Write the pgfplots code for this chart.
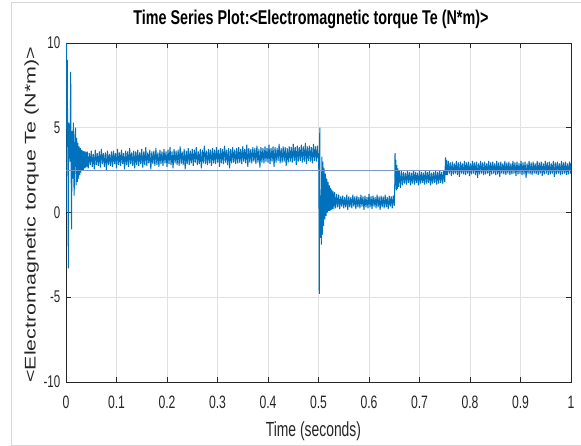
\documentclass[border=0pt]{standalone}
\usepackage{fontspec}
\usepackage{graphicx}
\usepackage{pgfplots}
\pgfplotsset{compat=1.18}
\setmainfont{Liberation Sans}
\newfontfamily\narrowfont{Liberation Sans}[FakeStretch=0.68]
\newfontfamily\titlefont{Liberation Sans}[FakeStretch=0.72]
\definecolor{mblue}{RGB}{0,114,189}
\definecolor{refline}{RGB}{120,150,200}
\definecolor{axgray}{RGB}{38,38,38}
\definecolor{gridgray}{RGB}{225,225,225}
\definecolor{framegray}{RGB}{215,215,215}
\begin{document}
\begin{tikzpicture}
\useasboundingbox (0,0) rectangle (581bp,446bp);
\draw[framegray, line width=0.8bp] (581bp,444bp) -- (11.5bp,444bp) -- (11.5bp,1bp) -- (581bp,1bp);
\begin{axis}[
  at={(66bp,64bp)}, anchor=south west,
  scale only axis, width=505bp, height=339bp,
  xmin=0, xmax=1, ymin=-10, ymax=10,
  xtick={0,0.1,0.2,0.3,0.4,0.5,0.6,0.7,0.8,0.9,1},
  xticklabels={0,0.1,0.2,0.3,0.4,0.5,0.6,0.7,0.8,0.9,1},
  ytick={-10,-5,0,5,10},
  yticklabels={-10,-5,0,5,10},
  grid=major,
  major grid style={color=gridgray, line width=0.6bp},
  tick align=inside, major tick length=5bp,
  tick style={axgray, line width=0.6bp},
  axis line style={axgray, line width=0.7bp},
  ticklabel style={color=axgray},
  xticklabel style={font=\narrowfont\fontsize{18}{20}\selectfont, inner sep=0pt, yshift=-14bp},
  yticklabel style={font=\narrowfont\fontsize{17}{19}\selectfont, inner sep=0pt, xshift=-5.5bp},
  title={Time Series Plot:<Electromagnetic torque Te (N*m)>},
  title style={font=\titlefont\bfseries\fontsize{20}{22}\selectfont, at={(axis description cs:0.485,1.0383)}, anchor=base, inner sep=0pt, color=black},
  xlabel={Time (seconds)},
  xlabel style={font=\narrowfont\fontsize{20.5}{22}\selectfont, at={(axis description cs:0.49,-0.1622)}, anchor=base, inner sep=0pt, color=axgray},
  ylabel={\scalebox{1}[0.72]{<Electromagnetic torque Te (N*m)>}},
  ylabel style={font=\fontsize{21.5}{23}\selectfont, at={(axis description cs:-0.0600,0.493)}, anchor=base, inner sep=0pt, color=axgray},
]
\addplot[mblue, line width=1.0bp, line join=bevel] coordinates {
(0.0000,0.0)(0.0010,10.0)(0.0018,5.5)(0.0025,9.0)(0.0032,4.8)(0.0040,2.0)(0.0046,-3.3)(0.0055,5.3)(0.0062,4.8)(0.0070,5.2)
(0.0080,3.0)(0.0093,8.3)(0.0100,3.5)(0.0110,-1.0)(0.0120,4.8)(0.0132,2.0)(0.0145,5.3)(0.0155,2.0)(0.0162,1.0)(0.0175,4.5)
(0.0190,5.0)(0.0200,1.6)(0.0212,4.4)(0.0224,1.8)(0.0236,4.1)(0.0248,2.0)(0.0260,3.9)(0.0272,2.2)(0.0284,3.8)(0.0296,2.35)
(0.0308,3.7)(0.0320,2.45)(0.0332,3.65)(0.0344,2.5)(0.0356,3.6)(0.0368,2.6)(0.0380,3.6)(0.0392,2.65)(0.0404,3.55)(0.0412,2.7)
(0.042,3.6)(0.044,2.6)(0.046,3.5)(0.048,2.8)(0.050,3.65)(0.052,2.7)(0.054,3.45)(0.056,2.55)(0.058,3.7)(0.060,2.8)
(0.062,3.5)(0.064,2.75)(0.066,3.6)(0.068,2.65)(0.070,3.75)(0.072,2.85)(0.074,3.5)(0.076,2.7)(0.078,3.55)(0.080,2.5)
(0.082,3.65)(0.084,2.8)(0.086,3.45)(0.088,2.75)(0.090,3.6)(0.092,2.7)(0.094,3.65)(0.096,2.85)(0.098,3.5)(0.100,2.6)
(0.102,3.75)(0.104,2.8)(0.106,3.55)(0.108,2.75)(0.110,3.7)(0.112,2.85)(0.114,3.5)(0.116,2.55)(0.118,3.65)(0.120,2.8)
(0.122,3.6)(0.124,2.7)(0.126,3.8)(0.128,2.85)(0.130,3.55)(0.132,2.75)(0.134,3.65)(0.136,2.6)(0.138,3.6)(0.140,2.8)
(0.142,3.7)(0.144,2.75)(0.146,3.55)(0.148,2.85)(0.150,3.75)(0.152,2.65)(0.154,3.6)(0.156,2.8)(0.158,3.85)(0.160,2.75)
(0.162,3.55)(0.164,2.9)(0.166,3.7)(0.168,2.55)(0.170,3.6)(0.172,2.85)(0.174,3.65)(0.176,2.75)(0.178,3.8)(0.180,2.8)
(0.182,3.55)(0.184,2.7)(0.186,3.7)(0.188,2.85)(0.190,3.6)(0.192,2.75)(0.194,3.75)(0.196,2.9)(0.198,3.6)(0.200,2.7)
(0.202,3.7)(0.204,2.85)(0.206,3.85)(0.208,2.8)(0.210,3.6)(0.212,2.6)(0.214,3.75)(0.216,2.9)(0.218,3.65)(0.220,2.8)
(0.222,3.7)(0.224,2.75)(0.226,3.9)(0.228,2.85)(0.230,3.6)(0.232,2.8)(0.234,3.75)(0.236,2.55)(0.238,3.65)(0.240,2.85)
(0.242,3.8)(0.244,2.8)(0.246,3.65)(0.248,2.9)(0.250,3.75)(0.252,2.75)(0.254,3.7)(0.256,2.95)(0.258,3.85)(0.260,2.8)
(0.262,3.6)(0.264,2.85)(0.266,3.75)(0.268,2.6)(0.270,3.7)(0.272,2.9)(0.274,3.95)(0.276,2.85)(0.278,3.65)(0.280,2.8)
(0.282,3.75)(0.284,2.9)(0.286,3.7)(0.288,2.75)(0.290,3.8)(0.292,2.9)(0.294,3.7)(0.296,2.85)(0.298,3.85)(0.300,2.95)
(0.302,3.7)(0.304,2.7)(0.306,3.8)(0.308,2.9)(0.310,3.75)(0.312,2.85)(0.314,3.95)(0.316,2.95)(0.318,3.7)(0.320,2.8)
(0.322,3.8)(0.324,2.6)(0.326,3.75)(0.328,2.9)(0.330,3.85)(0.332,2.95)(0.334,3.7)(0.336,2.85)(0.338,3.8)(0.340,2.9)
(0.342,3.85)(0.344,2.95)(0.346,3.75)(0.348,2.85)(0.350,3.9)(0.352,3.0)(0.354,3.75)(0.356,2.9)(0.358,4.0)(0.360,2.7)
(0.362,3.8)(0.364,2.95)(0.366,3.75)(0.368,2.9)(0.370,3.85)(0.372,3.0)(0.374,3.8)(0.376,2.85)(0.378,3.95)(0.380,2.95)
(0.382,3.75)(0.384,2.65)(0.386,3.85)(0.388,2.95)(0.390,3.8)(0.392,2.9)(0.394,3.9)(0.396,3.0)(0.398,3.8)(0.400,2.95)
(0.402,4.0)(0.404,2.85)(0.406,3.8)(0.408,3.0)(0.410,3.9)(0.412,2.7)(0.414,3.85)(0.416,2.95)(0.418,3.8)(0.420,3.05)
(0.422,4.05)(0.424,2.9)(0.426,3.8)(0.428,2.95)(0.430,3.9)(0.432,3.0)(0.434,3.85)(0.436,2.75)(0.438,3.8)(0.440,2.95)
(0.442,3.9)(0.444,3.0)(0.446,3.85)(0.448,2.95)(0.450,4.05)(0.452,3.05)(0.454,3.85)(0.456,2.8)(0.458,3.95)(0.460,3.0)
(0.462,3.85)(0.464,3.05)(0.466,4.0)(0.468,2.95)(0.470,3.9)(0.472,3.0)(0.474,4.1)(0.476,2.85)(0.478,3.9)(0.480,3.05)
(0.482,3.95)(0.484,3.0)(0.486,3.85)(0.488,2.9)(0.490,4.05)(0.492,3.05)(0.494,3.9)(0.496,3.0)(0.498,3.95)(0.4995,3.2)
(0.5000,3.5)(0.5008,2.0)(0.5015,-4.8)(0.5025,5.0)(0.5032,-0.5)(0.5040,-1.5)(0.5048,1.0)(0.5056,-1.9)(0.5066,3.3)(0.5076,-1.3)
(0.5088,3.0)(0.5100,-0.8)(0.5112,2.6)(0.5125,-0.4)(0.5138,2.3)(0.5150,-0.2)(0.5163,2.0)(0.5175,0.0)(0.5188,1.8)(0.5200,0.1)
(0.5213,1.6)(0.5225,0.1)(0.5238,1.45)(0.5250,0.15)(0.5263,1.35)(0.5275,0.2)(0.5290,1.25)(0.5305,0.2)
(0.532,1.2)(0.534,0.25)(0.536,1.1)(0.538,0.3)(0.540,1.05)(0.542,0.2)(0.544,0.95)(0.546,0.35)(0.548,1.0)(0.550,0.25)
(0.552,0.9)(0.554,0.3)(0.556,1.05)(0.558,0.15)(0.560,0.95)(0.562,0.3)(0.564,0.9)(0.566,0.25)(0.568,1.05)(0.570,0.35)
(0.572,0.95)(0.574,0.2)(0.576,1.0)(0.578,0.3)(0.580,0.9)(0.582,0.25)(0.584,1.05)(0.586,0.35)(0.588,0.95)(0.590,0.15)
(0.592,1.0)(0.594,0.3)(0.596,0.9)(0.598,0.25)(0.600,1.1)(0.602,0.3)(0.604,0.95)(0.606,0.2)(0.608,1.0)(0.610,0.35)
(0.612,0.9)(0.614,0.25)(0.616,1.05)(0.618,0.3)(0.620,0.95)(0.622,0.15)(0.624,1.0)(0.626,0.3)(0.628,0.95)(0.630,0.25)
(0.632,1.05)(0.634,0.3)(0.636,0.9)(0.638,0.2)(0.640,1.0)(0.642,0.35)(0.644,0.95)(0.646,0.25)(0.648,1.0)(0.650,0.4)
(0.6508,1.0)(0.6515,3.5)(0.6522,1.6)(0.6530,3.1)(0.6540,1.3)(0.6550,2.8)(0.6560,1.4)(0.6570,2.6)(0.6580,1.5)
(0.660,2.5)(0.662,1.45)(0.664,2.45)(0.666,1.6)(0.668,2.4)(0.670,1.7)(0.672,2.35)(0.674,1.65)(0.676,2.45)(0.678,1.75)
(0.680,2.4)(0.682,1.6)(0.684,2.35)(0.686,1.7)(0.688,2.5)(0.690,1.65)(0.692,2.4)(0.694,1.75)(0.696,2.35)(0.698,1.6)
(0.700,2.45)(0.702,1.7)(0.704,2.4)(0.706,1.75)(0.708,2.35)(0.710,1.65)(0.712,2.5)(0.714,1.7)(0.716,2.4)(0.718,1.75)
(0.720,2.45)(0.722,1.6)(0.724,2.35)(0.726,1.7)(0.728,2.4)(0.730,1.75)(0.732,2.45)(0.734,1.65)(0.736,2.4)(0.738,1.7)
(0.740,2.5)(0.742,1.75)(0.744,2.4)(0.746,1.7)(0.748,2.45)(0.750,1.8)
(0.7515,3.25)(0.7525,2.2)(0.7535,3.1)
(0.755,2.2)(0.757,3.05)(0.759,2.3)(0.761,2.95)(0.763,2.15)(0.765,3.0)(0.767,2.25)(0.769,2.9)(0.771,2.3)(0.773,3.05)
(0.775,2.2)(0.777,2.95)(0.779,2.1)(0.781,3.0)(0.783,2.3)(0.785,2.9)(0.787,2.25)(0.789,3.05)(0.791,2.2)(0.793,2.95)
(0.795,2.3)(0.797,3.0)(0.799,2.15)(0.801,2.9)(0.803,2.25)(0.805,3.05)(0.807,2.3)(0.809,2.95)(0.811,2.2)(0.813,3.0)
(0.815,2.05)(0.817,2.9)(0.819,2.25)(0.821,3.05)(0.823,2.3)(0.825,2.95)(0.827,2.2)(0.829,3.0)(0.831,2.25)(0.833,2.9)
(0.835,2.3)(0.837,3.05)(0.839,2.15)(0.841,2.95)(0.843,2.25)(0.845,3.0)(0.847,2.3)(0.849,2.9)(0.851,2.2)(0.853,3.05)
(0.855,2.25)(0.857,2.95)(0.859,2.1)(0.861,3.0)(0.863,2.3)(0.865,2.9)(0.867,2.25)(0.869,3.05)(0.871,2.2)(0.873,2.95)
(0.875,2.3)(0.877,3.0)(0.879,2.2)(0.881,2.9)(0.883,2.25)(0.885,3.05)(0.887,2.3)(0.889,2.95)(0.891,2.15)(0.893,3.0)
(0.895,2.25)(0.897,2.9)(0.899,2.3)(0.901,3.05)(0.903,2.2)(0.905,2.95)(0.907,2.25)(0.909,3.0)(0.911,2.05)(0.913,2.9)
(0.915,2.3)(0.917,3.05)(0.919,2.25)(0.921,2.95)(0.923,2.2)(0.925,3.0)(0.927,2.3)(0.929,2.9)(0.931,2.25)(0.933,3.05)
(0.935,2.2)(0.937,2.95)(0.939,2.3)(0.941,3.0)(0.943,2.15)(0.945,2.9)(0.947,2.25)(0.949,3.05)(0.951,2.3)(0.953,2.95)
(0.955,2.2)(0.957,3.0)(0.959,2.25)(0.961,2.9)(0.963,2.3)(0.965,3.05)(0.967,2.1)(0.969,2.95)(0.971,2.25)(0.973,3.0)
(0.975,2.3)(0.977,2.9)(0.979,2.2)(0.981,3.05)(0.983,2.25)(0.985,2.95)(0.987,2.3)(0.989,3.0)(0.991,2.2)(0.993,2.9)
(0.995,2.25)(0.997,3.0)(0.999,2.3)(1.000,2.9)
};
\addplot[refline, line width=1bp] coordinates {(0,2.5) (1,2.5)};
\end{axis}
\end{tikzpicture}
\end{document}
